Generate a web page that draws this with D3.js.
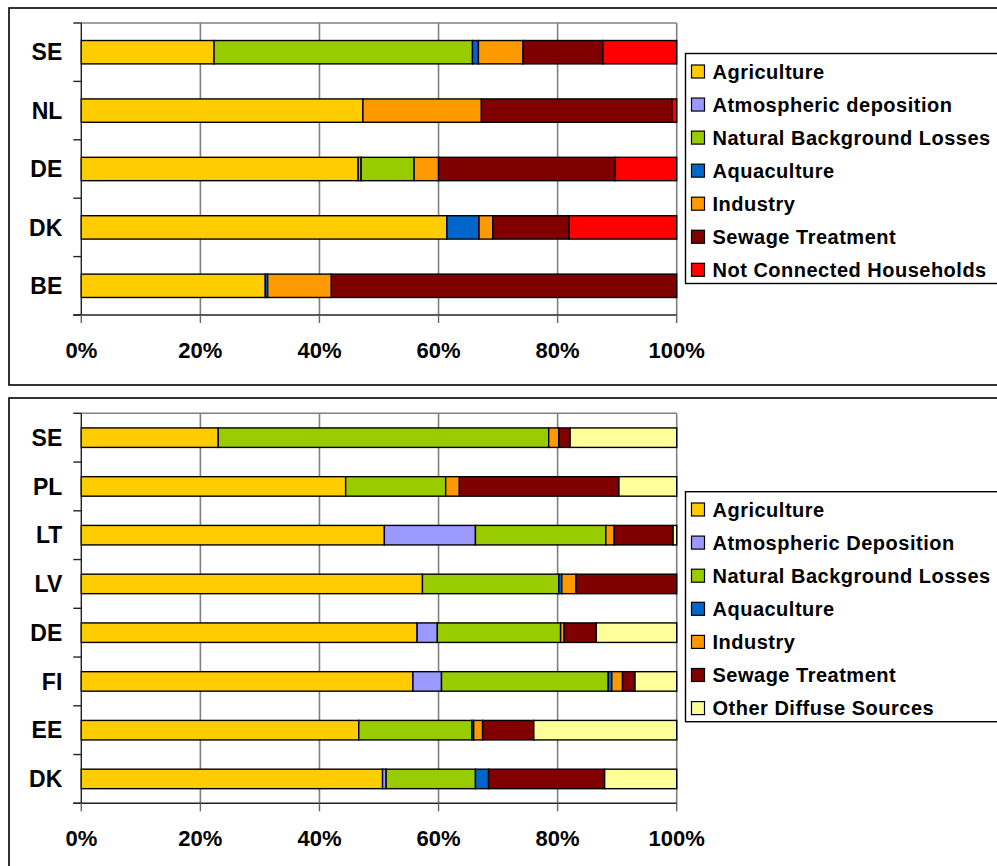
<!DOCTYPE html>
<html lang="en">
<head>
<meta charset="UTF-8">
<title>Nutrient source apportionment</title>
<script src="https://d3js.org/d3.v7.min.js"></script>
<style>
  body { margin: 0; background: #fff; }
  svg { display: block; font-family: "Liberation Sans", Arial, sans-serif; font-weight: bold; }
  .grid line { stroke: #808080; stroke-width: 1.6px; }
  .seg { stroke: #000; stroke-width: 1.4px; }
</style>
</head>
<body>
<svg id="chart" width="997" height="866"></svg>
<script>
// ---- top panel data (shares in %) ----
const topCountries = ["SE", "NL", "DE", "DK", "BE"];
const topSources = ["Agriculture", "Atmospheric deposition", "Natural Background Losses",
  "Aquaculture", "Industry", "Sewage Treatment", "Not Connected Households"];
const topAgriculture = [22.3, 47.3, 46.5, 61.4, 30.9];
const topAtmospheric = [0, 0, 0.5, 0, 0];
const topNatural     = [43.4, 0, 8.9, 0, 0];
const topAquaculture = [1.0, 0, 0, 5.4, 0.4];
const topIndustry    = [7.5, 19.9, 4.1, 2.3, 10.7];
const topSewage      = [13.4, 32.0, 29.7, 12.8, 58.0];
const topNotConnected = [12.4, 0.8, 10.3, 18.1, 0];
const topColors = ["#FFCC00", "#9999FF", "#99CC00", "#0066CC", "#FF9900", "#800000", "#FF0000"];

// ---- bottom panel data (shares in %) ----
const botCountries = ["SE", "PL", "LT", "LV", "DE", "FI", "EE", "DK"];
const botSources = ["Agriculture", "Atmospheric Deposition", "Natural Background Losses",
  "Aquaculture", "Industry", "Sewage Treatment", "Other Diffuse Sources"];
const botAgriculture = [23.0, 44.4, 50.9, 57.3, 56.4, 55.7, 46.6, 50.6];
const botAtmospheric = [0, 0, 15.3, 0, 3.4, 4.8, 0, 0.6];
const botNatural     = [55.5, 16.8, 21.9, 22.9, 20.7, 28.0, 19.0, 15.0];
const botAquaculture = [0, 0, 0, 0.5, 0, 0.6, 0.3, 2.2];
const botIndustry    = [1.7, 2.3, 1.4, 2.4, 0.6, 1.8, 1.5, 0];
const botSewage      = [1.9, 26.8, 9.9, 16.9, 5.4, 2.1, 8.6, 19.5];
const botOther       = [17.9, 9.7, 0.6, 0, 13.5, 7.0, 24.0, 12.1];
const botColors = ["#FFCC00", "#9999FF", "#99CC00", "#0066CC", "#FF9900", "#800000", "#FFFF99"];

const xTicks = [0, 20, 40, 60, 80, 100];

const svg = d3.select("#chart");

function drawPanel(opt) {
  const { countries, sources, series, colors, frame, plot, legend } = opt;

  // outer frame
  svg.append("rect")
    .attr("x", frame.x).attr("y", frame.y)
    .attr("width", 1200).attr("height", frame.h)
    .attr("fill", "none").attr("stroke", "#000").attr("stroke-width", 1.6);

  // build rows for the stack
  const rows = countries.map((c, i) => {
    const r = { country: c };
    sources.forEach((s, j) => { r[s] = series[j][i]; });
    return r;
  });
  const stacked = d3.stack().keys(sources)(rows);

  const x = d3.scaleLinear().domain([0, 100]).range([plot.x0, plot.x1]);
  const y = d3.scaleBand().domain(countries)
    .range([plot.y0, plot.y1])
    .paddingInner(0.6).paddingOuter(0.3);
  const step = y.step();

  // gridlines + top border
  const g = svg.append("g").attr("class", "grid");
  g.selectAll("line.v").data(xTicks.slice(1)).join("line")
    .attr("x1", d => x(d)).attr("x2", d => x(d))
    .attr("y1", plot.y0).attr("y2", plot.y1);
  g.append("line")
    .attr("x1", plot.x0).attr("x2", plot.x1)
    .attr("y1", plot.y0).attr("y2", plot.y0);

  // bars
  svg.append("g").selectAll("g").data(stacked).join("g")
    .attr("fill", (d, i) => colors[i])
    .selectAll("rect")
    .data(d => d.filter(p => p[1] - p[0] > 0))
    .join("rect")
    .attr("class", "seg")
    .attr("x", d => x(d[0]))
    .attr("width", d => x(d[1]) - x(d[0]))
    .attr("y", d => y(d.data.country))
    .attr("height", y.bandwidth());

  // y axis: line, ticks at band boundaries, labels
  const ax = svg.append("g").attr("stroke", "#222").attr("stroke-width", 1.4);
  ax.append("line").attr("x1", plot.x0).attr("x2", plot.x0).attr("y1", plot.y0).attr("y2", plot.y1);
  ax.append("line").attr("x1", plot.x0 - 8).attr("x2", plot.x1).attr("y1", plot.y1).attr("y2", plot.y1);
  ax.selectAll("line.yt").data(d3.range(countries.length + 1)).join("line")
    .attr("x1", plot.x0 - 8).attr("x2", plot.x0)
    .attr("y1", i => plot.y0 + i * step).attr("y2", i => plot.y0 + i * step);
  ax.selectAll("line.xt").data(xTicks).join("line")
    .attr("x1", d => x(d)).attr("x2", d => x(d))
    .attr("y1", plot.y1).attr("y2", plot.y1 + 8)
    .attr("stroke", "#666");

  svg.append("g").selectAll("text").data(countries).join("text")
    .attr("x", plot.x0 - 19)
    .attr("y", d => y(d) + y.bandwidth() / 2)
    .attr("dy", "0.36em")
    .attr("text-anchor", "end")
    .attr("font-size", 23)
    .text(d => d);

  svg.append("g").selectAll("text").data(xTicks).join("text")
    .attr("x", d => x(d))
    .attr("y", plot.y1 + 43)
    .attr("text-anchor", "middle")
    .attr("font-size", 22)
    .text(d => d + "%");

  // legend
  svg.append("rect")
    .attr("x", legend.x).attr("y", legend.y)
    .attr("width", 400).attr("height", legend.h)
    .attr("fill", "#fff").attr("stroke", "#000").attr("stroke-width", 1.4);
  const li = svg.append("g").selectAll("g").data(sources).join("g")
    .attr("transform", (d, i) => `translate(${legend.x + 6},${legend.row0 + i * legend.gap})`);
  li.append("rect")
    .attr("x", 0).attr("y", -6.5).attr("width", 13).attr("height", 13)
    .attr("fill", (d, i) => colors[i]).attr("stroke", "#000").attr("stroke-width", 1.2);
  li.append("text")
    .attr("x", 21).attr("y", 7)
    .attr("font-size", 20)
    .attr("letter-spacing", "0.5px")
    .text(d => d);
}

drawPanel({
  countries: topCountries,
  sources: topSources,
  series: [topAgriculture, topAtmospheric, topNatural, topAquaculture, topIndustry, topSewage, topNotConnected],
  colors: topColors,
  frame: { x: 9, y: 8, h: 377 },
  plot: { x0: 81.3, x1: 676.7, y0: 23, y1: 315 },
  legend: { x: 685.5, y: 53.5, h: 230, row0: 71.5, gap: 33.05 }
});

drawPanel({
  countries: botCountries,
  sources: botSources,
  series: [botAgriculture, botAtmospheric, botNatural, botAquaculture, botIndustry, botSewage, botOther],
  colors: botColors,
  frame: { x: 9, y: 398, h: 500 },
  plot: { x0: 81.3, x1: 676.7, y0: 413.3, y1: 803.3 },
  legend: { x: 685.5, y: 491.7, h: 230, row0: 509.5, gap: 33.1 }
});
</script>
</body>
</html>
